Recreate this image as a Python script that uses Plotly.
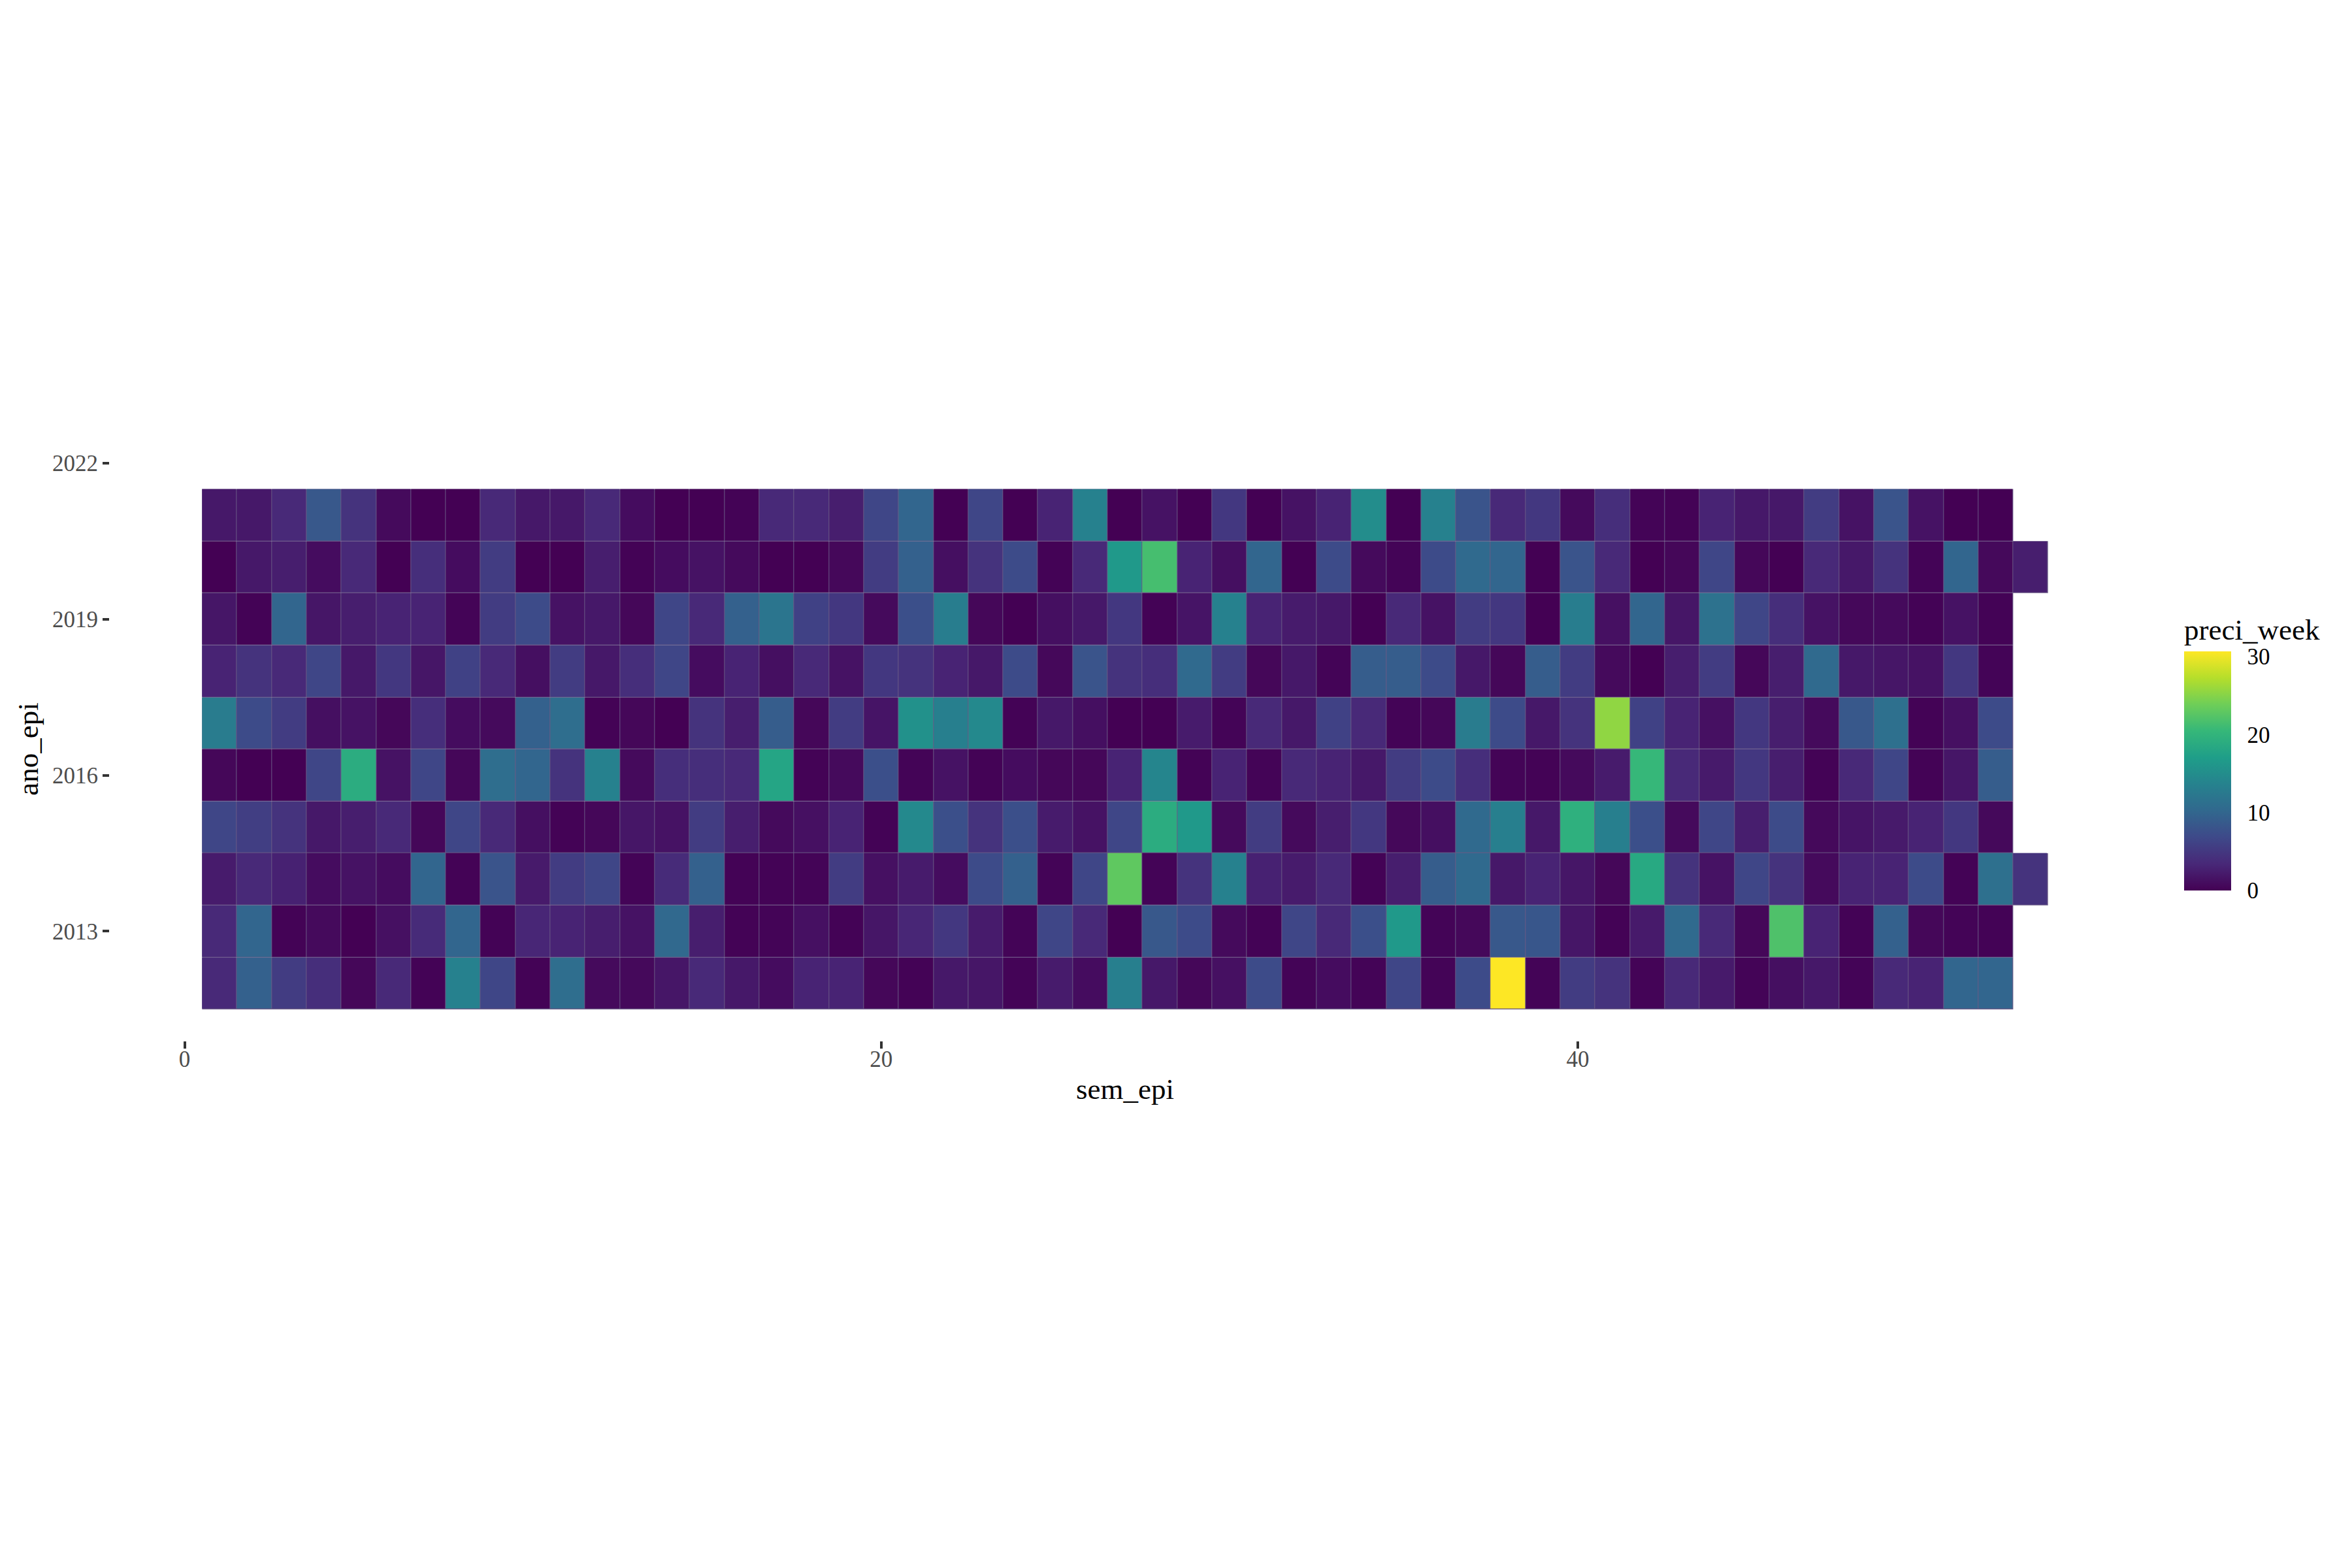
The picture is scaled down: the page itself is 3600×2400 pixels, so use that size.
import plotly.graph_objects as go

W, H = 3600, 2400

years = [2012, 2013, 2014, 2015, 2016, 2017, 2018, 2019, 2020, 2021]

p2012 = [3.5, 9.5, 5.5, 4, 0.5, 3.5, 0.2, 13.5, 6.5, 0.2, 11, 0.8, 0.7,
         1.8, 3.5, 2, 1, 3, 3, 0.5, 0.2, 2, 1.8, 0.3, 2.3, 1,
         13.3, 2, 0.5, 1.3, 7, 0.3, 1, 0.3, 6.5, 0.3, 7, 30.7, 0.3,
         5.5, 4.5, 0.3, 3.5, 2.2, 0.3, 1.2, 2, 0.3, 3.5, 3, 10, 10]
p2013 = [3.5, 10, 0.2, 0.8, 0, 1.3, 3.7, 10, 0.2, 3.2, 3, 2.5, 1.5,
         10.3, 2.5, 0.2, 0.3, 1.3, 0.2, 1.8, 3.2, 5, 2.3, 0.3, 6.5, 3.5,
         0, 8.5, 7, 0.8, 0.2, 6.5, 3.5, 7.5, 16.5, 0.3, 0.6, 8.5, 8.3,
         1.8, 0.2, 2.2, 10.5, 3.5, 0.5, 22, 3, 0.2, 9.5, 0.5, 0.3, 0.2]
p2014 = [2.3, 3.5, 2.8, 1, 1.5, 1, 10, 0.2, 8, 2.2, 5.5, 6.5, 0.3,
         3.7, 9.5, 0.2, 0.2, 0.3, 5.5, 1.3, 2.3, 1, 7, 9.5, 0.3, 6.5,
         23, 0.3, 4.5, 13.5, 2.8, 2.3, 3.5, 0.2, 2.5, 9, 10.5, 2, 3,
         1.8, 0.5, 18.5, 4.5, 1.5, 6.5, 4.5, 0.8, 3, 3, 7, 0.2, 11.3, 4.5]
p2015 = [6.5, 5.7, 4.5, 2, 2.5, 3.5, 0.5, 6.5, 3.5, 1.2, 0.2, 0.5, 1.8,
         1.5, 5.5, 2.5, 0.8, 1.3, 3, 0.2, 14.5, 7.5, 4.5, 7.5, 2.3, 1.5,
         6.5, 19, 16.5, 0.8, 5.5, 0.8, 2.5, 5, 0.6, 1.2, 10.5, 13.2, 2,
         19.5, 13.3, 7.5, 0.8, 6.5, 2.5, 7, 0.7, 1.7, 2.2, 3, 5, 0.7]
p2016 = [0.5, 0, 0, 6.5, 19, 1.5, 6.5, 0.5, 11, 10, 4.5, 13.5, 0.8,
         4, 4, 3.5, 18, 0.2, 0.8, 7.5, 0.3, 1.5, 0.2, 1, 0.5, 0.5,
         3, 14, 0.2, 3, 0.3, 3.5, 3, 2, 5.5, 7, 4, 0.3, 0.2,
         0.8, 2.3, 20.5, 3.5, 2.2, 5, 2.5, 0.2, 3.5, 6.5, 0.2, 1.8, 9]
p2017 = [12.8, 7, 5.5, 1.2, 1.5, 0.5, 4, 1, 0.8, 9.5, 11, 0.2, 0.5,
         0, 4.5, 2.5, 9, 0.5, 5.5, 1.7, 15.5, 13.2, 14.5, 0.2, 2, 1.2,
         0, 0, 2.3, 0.3, 3.5, 2, 6, 3.5, 0.3, 0.5, 12.8, 7, 2,
         4.5, 25.5, 6, 3, 1.3, 5, 2.5, 0.8, 8.5, 11.3, 0.2, 1.3, 7]
p2018 = [3, 4.5, 3.5, 6.5, 2, 5, 1.8, 6, 3.5, 1.2, 5.5, 2, 4,
         6.5, 1, 3, 1.2, 3.5, 1.5, 5, 4.5, 3, 2, 7, 0.6, 8,
         4.5, 4, 10.5, 5.5, 0.5, 2, 0.3, 9, 9, 7, 2, 0.5, 9,
         5.5, 0.8, 0, 2.5, 5.5, 0.5, 2.5, 10.5, 2, 1.8, 1.5, 5, 0.3]
p2019 = [1.8, 0.2, 10, 1.8, 2.5, 3, 3, 0.3, 5.5, 7, 1.5, 2, 0.5,
         6.5, 3.5, 9.5, 12, 6, 5, 0.8, 7.5, 13, 0.5, 0, 1.2, 2,
         5, 0.2, 1.7, 13.5, 3, 2.3, 2, 0, 3.5, 1.5, 5.5, 5, 0,
         13, 1.3, 10, 1.8, 11.5, 6.5, 4, 1.5, 0.6, 0.8, 0.2, 1.5, 0.2]
p2020 = [0, 2, 2.5, 1, 3.5, 0, 4, 1, 5.5, 0, 0, 2.5, 0.2,
         1, 1.5, 0.8, 0, 0, 0.6, 5.5, 9.5, 1.2, 4.5, 7, 0.2, 3.5,
         16.5, 21.5, 3, 1.2, 10, 0, 7, 0.8, 0.3, 7, 10.5, 10, 0,
         8, 3.5, 0, 0.5, 6.5, 0.5, 0, 3.5, 2, 4.5, 0.3, 10, 0.7, 2.5]
p2021 = [2, 2, 3.5, 8.5, 4.5, 0.8, 0, 0, 3.5, 2, 2, 3.5, 1,
         0, 0, 0.2, 3.5, 3.5, 2.5, 6.5, 10, 0, 6.5, 0, 3, 13.5,
         0, 1.5, 0, 5, 0, 1.5, 3, 15, 0, 13.5, 8, 3.5, 5,
         0.8, 4, 0.3, 0.2, 3, 2, 2, 5.5, 1.5, 8, 1.5, 0, 0]

rows = [p2012, p2013, p2014, p2015, p2016, p2017, p2018, p2019, p2020, p2021]
weeks = list(range(1, 54))
cb_ticks = [0, 10, 20, 30]

z = [r + [None] * (len(weeks) - len(r)) for r in rows]
zmax = max(max(r) for r in rows)

# layout in pixels
px_left, px_right = 168, 3276
px_top, px_bottom = 693, 1589
xr = [0.5 - 0.05 * 53, 53.5 + 0.05 * 53]
yr = [years[0] - 0.5 - 0.06 * 10, years[-1] + 0.5 + 0.06 * 10]

FONT = "Liberation Serif"

fig = go.Figure()

# thin border colour under the tiles (seen through the cell gaps)
shapes = []
for yv, r in zip(years, rows):
    shapes.append(dict(type="rect", xref="x", yref="y", layer="below",
                       x0=0.5, x1=len(r) + 0.5, y0=yv - 0.5, y1=yv + 0.5,
                       line=dict(width=0), fillcolor="#6a5a86"))

cb_bar = 359          # bar length in px
cb_title = 62         # room taken by the title above the bar
cb_bottom = 1358
cb_left = 3343
cb_thick = 72
fig.add_trace(go.Heatmap(
    x=weeks, y=years, z=z, zmin=0, zmax=zmax,
    colorscale="Viridis", xgap=1, ygap=1, hoverinfo="skip",
    colorbar=dict(
        thickness=cb_thick, thicknessmode="pixels",
        len=cb_bar + cb_title, lenmode="pixels",
        x=cb_left / W, xanchor="left",
        y=(H - cb_bottom) / H, yanchor="bottom",
        outlinewidth=0,
        tickvals=cb_ticks,
        ticks="outside", ticklen=18, tickcolor="rgba(0,0,0,0)",
        tickfont=dict(family=FONT, size=35, color="black"),
        title=dict(text="preci_week", side="top",
                   font=dict(family=FONT, size=45, color="black")),
        xpad=0, ypad=0,
    ),
))

# white colourbar ticks on both edges, as ggplot draws them
for v in cb_ticks:
    ypix = cb_bottom - v / zmax * cb_bar
    for xa, xb in [(cb_left, cb_left + 15),
                   (cb_left + cb_thick - 15, cb_left + cb_thick)]:
        shapes.append(dict(type="line", xref="paper", yref="paper",
                           x0=xa / W, x1=xb / W,
                           y0=(H - ypix) / H, y1=(H - ypix) / H,
                           line=dict(color="white", width=2)))

fig.update_layout(
    width=W, height=H,
    margin=dict(l=0, r=0, t=0, b=0),
    paper_bgcolor="white", plot_bgcolor="white",
    font=dict(family=FONT),
    shapes=shapes,
    xaxis=dict(domain=[px_left / W, px_right / W], range=xr,
               tickvals=[0, 20, 40], ticks="outside", ticklen=11,
               tickwidth=4, tickcolor="#333333", ticklabelstandoff=-14,
               tickfont=dict(family=FONT, size=35, color="#4d4d4d"),
               showgrid=False, zeroline=False, showline=False),
    yaxis=dict(domain=[(H - px_bottom) / H, (H - px_top) / H], range=yr,
               tickvals=[2013, 2016, 2019, 2022], ticks="outside",
               ticklen=10, tickwidth=4, tickcolor="#333333",
               tickfont=dict(family=FONT, size=35, color="#4d4d4d"),
               showgrid=False, zeroline=False, showline=False),
    annotations=[
        dict(text="sem_epi", xref="paper", yref="paper",
             x=(px_left + px_right) / 2 / W, y=(H - 1664) / H,
             xanchor="center", yanchor="middle", showarrow=False,
             font=dict(family=FONT, size=45, color="black")),
        dict(text="ano_epi", xref="paper", yref="paper",
             x=43 / W, y=(H - (px_top + px_bottom) / 2) / H,
             xanchor="center", yanchor="middle", showarrow=False,
             textangle=-90,
             font=dict(family=FONT, size=45, color="black")),
    ],
)

fig.write_html("out.html")
